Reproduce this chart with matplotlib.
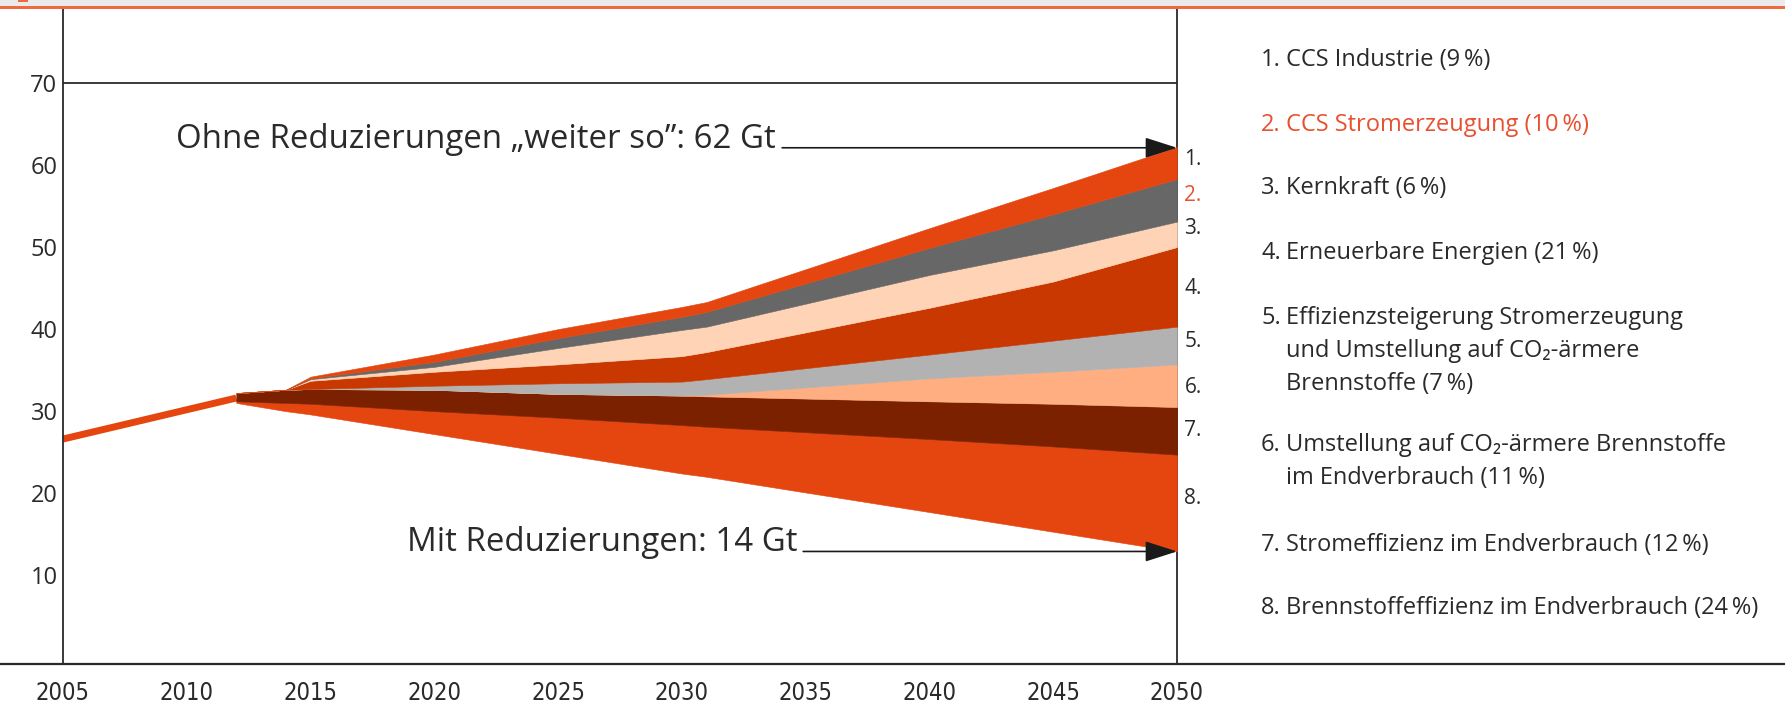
import matplotlib
matplotlib.use("Agg")
import matplotlib.pyplot as plt
from matplotlib import font_manager
from matplotlib.font_manager import FontProperties
from matplotlib.patches import Rectangle
import numpy as np

# ------------------------------------------------------------------ data
hist_years = [2005, 2012]
hist_emissions = [26.6, 31.6]

years = [2012, 2014, 2015, 2020, 2025, 2030, 2031, 2040, 2045, 2050]
with_reductions = [31.0, 30.0, 29.6, 27.2, 24.8, 22.4, 22.0, 17.7, 15.3, 12.9]
# thickness (Gt) of each reduction wedge, stacked from 8 (bottom) to 1 (top)
red_8 = [0.2, 1.0, 1.3, 2.8, 4.4, 5.9, 6.1, 8.9, 10.4, 11.8]
red_7 = [1.0, 1.6, 1.8, 2.6, 2.9, 3.6, 3.7, 4.6, 5.2, 5.8]
red_6 = [0.0, 0.0, 0.0, 0.0, 0.0, 0.0, 0.2, 2.8, 3.9, 5.2]
red_5 = [0.0, 0.0, 0.0, 0.5, 1.3, 1.7, 1.9, 2.9, 3.8, 4.6]
red_4 = [0.0, 0.0, 1.0, 1.7, 2.3, 3.1, 3.3, 5.7, 7.2, 9.7]
red_3 = [0.0, 0.0, 0.2, 0.6, 2.0, 3.2, 3.1, 4.0, 3.8, 3.1]
red_2 = [0.0, 0.0, 0.1, 0.6, 1.2, 1.6, 1.8, 3.3, 4.4, 5.2]
red_1 = [0.0, 0.0, 0.2, 0.9, 1.1, 1.2, 1.2, 2.4, 3.2, 3.9]

baseline_2050 = 62
reduced_2050 = 14

x_ticks = list(range(2005, 2051, 5))
y_ticks = [10, 20, 30, 40, 50, 60, 70]

measure_numbers = ["1.", "2.", "3.", "4.", "5.", "6.", "7.", "8."]
measure_texts = [
    "CCS Industrie (9\u2009%)",
    "CCS Stromerzeugung (10\u2009%)",
    "Kernkraft (6\u2009%)",
    "Erneuerbare Energien (21\u2009%)",
    "Effizienzsteigerung Stromerzeugung\nund Umstellung auf CO\u2082-ärmere\nBrennstoffe (7\u2009%)",
    "Umstellung auf CO\u2082-ärmere Brennstoffe\nim Endverbrauch (11\u2009%)",
    "Stromeffizienz im Endverbrauch (12\u2009%)",
    "Brennstoffeffizienz im Endverbrauch (24\u2009%)",
]

# ------------------------------------------------------------------ style
ORANGE = "#E5450F"
colors_top_down = ["#E5450F", "#676767", "#FFD3B6", "#C93800",
                   "#B2B2B2", "#FFAE82", "#7B2100", "#E5450F"]
RED_TXT = "#E8502F"
TXT = "#2a2a2a"
LINE = "#2a2a2a"

BASE = ["Open Sans", "DejaVu Sans"]
plt.rcParams["font.family"] = BASE

# look for a condensed, non-bold face for the year labels
cond_file = None
for f in font_manager.fontManager.ttflist:
    st = str(f.stretch)
    try:
        w = int(f.weight)
    except (TypeError, ValueError):
        w = {"light": 300, "normal": 400, "regular": 400, "book": 400,
             "medium": 500}.get(str(f.weight), 700)
    if ("condensed" in st or (st.isdigit() and int(st) < 500)) and w <= 450 \
            and "italic" not in str(f.style) and "oblique" not in str(f.style):
        cond_file = f.fname
        break

W, H = 1785, 706
fig = plt.figure(figsize=(W / 100, H / 100), dpi=100)
fig.patch.set_facecolor("white")

# header strip
fig.add_artist(Rectangle((0, 1 - 6 / H), 1, 6 / H, transform=fig.transFigure,
                         facecolor="#EBEBEB", edgecolor="none"))
fig.add_artist(Rectangle((0, 1 - 9 / H), 1, 3 / H, transform=fig.transFigure,
                         facecolor="#EE6B3F", edgecolor="none"))
fig.add_artist(Rectangle((18 / W, 1 - 2 / H), 10 / W, 2 / H, transform=fig.transFigure,
                         facecolor="#EE6B3F", edgecolor="none"))

ax_bottom_px, ax_top_px = 664, 9
ax = fig.add_axes([0, (H - ax_bottom_px) / H, 1, (ax_bottom_px - ax_top_px) / H])
px_per_year = (1177 - 63) / 45
ax.set_xlim(2005 - 63 / px_per_year, 2005 + (W - 63) / px_per_year)
y0_px, px_per_gt = 657.3, 8.205
ax.set_ylim((y0_px - ax_bottom_px) / px_per_gt, (y0_px - ax_top_px) / px_per_gt)

# historic line
ax.plot(hist_years, hist_emissions, color=ORANGE, lw=5.0, solid_capstyle="butt", zorder=2)

# stacked wedges
wedges_bottom_up = [red_8, red_7, red_6, red_5, red_4, red_3, red_2, red_1]
lower = np.array(with_reductions, dtype=float)
for thick, col in zip(wedges_bottom_up, colors_top_down[::-1]):
    upper = lower + np.array(thick, dtype=float)
    ax.fill_between(years, lower, upper, facecolor=col, edgecolor=col, lw=0.4, zorder=3)
    lower = upper

# frame
ax.spines["top"].set_visible(False)
ax.spines["left"].set_position(("data", 2005))
ax.spines["right"].set_position(("data", 2050))
for s in ["left", "right"]:
    ax.spines[s].set_color(LINE)
    ax.spines[s].set_linewidth(1.3)
ax.spines["bottom"].set_color(LINE)
ax.spines["bottom"].set_linewidth(1.6)
ax.hlines(70, 2005, 2050, color=LINE, lw=1.3, zorder=1)

ax.set_xticks(x_ticks)
ax.set_yticks(y_ticks)
ax.tick_params(axis="both", length=0, colors=TXT)
ax.tick_params(axis="x", pad=12)
ax.tick_params(axis="y", pad=4)
for lab in ax.get_xticklabels():
    if cond_file:
        lab.set_fontproperties(FontProperties(fname=cond_file, size=17))
    else:
        lab.set_fontsize(15.5)
for lab in ax.get_yticklabels():
    lab.set_fontsize(17)

# arrows with annotations
arrow_kw = dict(arrowstyle="-|>,head_length=1.0,head_width=0.32", color="#1a1a1a",
                lw=1.2, shrinkA=0, shrinkB=0, mutation_scale=20)
ax.annotate("", xy=(2050, baseline_2050 + 0.1), xytext=(2034.05, baseline_2050 + 0.1),
            arrowprops=arrow_kw, zorder=5)
ax.text(2033.8, baseline_2050 + 0.1, "Ohne Reduzierungen \u201eweiter so\u201d: 62 Gt",
        ha="right", va="baseline", fontsize=23.8, color=TXT)
ax.annotate("", xy=(2050, reduced_2050 - 1.1), xytext=(2034.9, reduced_2050 - 1.1),
            arrowprops=arrow_kw, zorder=5)
ax.text(2034.65, reduced_2050 - 1.1, "Mit Reduzierungen: 14 Gt",
        ha="right", va="baseline", fontsize=23.8, color=TXT)

# numbers next to the wedges at 2050
number_y = [60.7, 56.3, 52.3, 45.0, 38.5, 32.9, 27.7, 19.3]
for i, (num, yv) in enumerate(zip(measure_numbers, number_y)):
    ax.text(2050.3, yv, num, ha="left", va="center", fontsize=15,
            color=RED_TXT if i == 1 else TXT)

# legend on the right
legend_y_px = [60, 125, 188, 253, 318, 445, 545, 608]
line_px = 33
x_num = 1261 / W
x_txt = 1286 / W
for i, (num, txt, ypx) in enumerate(zip(measure_numbers, measure_texts, legend_y_px)):
    col = RED_TXT if i == 1 else TXT
    fig.text(x_num, 1 - ypx / H, num, ha="left", va="center", fontsize=17, color=col)
    for j, line in enumerate(txt.split("\n")):
        fig.text(x_txt, 1 - (ypx + j * line_px) / H, line, ha="left", va="center",
                 fontsize=17, color=col, family=BASE)

fig.savefig("out.png", dpi=100, facecolor="white")
